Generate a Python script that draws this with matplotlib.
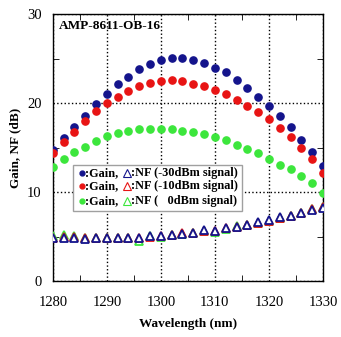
import numpy as np
import matplotlib
matplotlib.use("Agg")
import matplotlib.pyplot as plt
from matplotlib.patches import Rectangle

plt.rcParams['font.family'] = 'Liberation Serif'

# longitudes de onda (nm)
wl = np.arange(1280, 1331, 2)

# ganancia (dB)
gain_m30 = [14.75, 16.1, 17.3, 18.6, 19.85, 21.0, 22.1, 22.95, 23.8, 24.35, 24.9, 25.1, 25.1,
            24.9, 24.5, 24.0, 23.45, 22.55, 21.75, 20.65, 19.65, 18.55, 17.35, 15.9, 14.45, 12.9]
gain_m10 = [14.4, 15.6, 16.8, 18.0, 19.1, 20.0, 20.7, 21.4, 21.95, 22.3, 22.45, 22.55, 22.45,
            22.2, 21.9, 21.5, 21.0, 20.4, 19.65, 19.0, 18.2, 17.2, 16.2, 15.0, 13.75, 12.2]
gain_0 = [12.85, 13.75, 14.45, 15.1, 15.7, 16.25, 16.6, 16.85, 17.05, 17.1, 17.05, 17.1, 16.85,
          16.7, 16.5, 16.2, 15.8, 15.25, 14.85, 14.35, 13.7, 13.1, 12.55, 11.85, 11.0, 9.95]

# figura de ruido (dB)
nf_m30 = [4.8, 4.8, 4.8, 4.75, 4.8, 4.8, 4.8, 4.8, 4.85, 5.05, 5.05, 5.15, 5.3,
          5.45, 5.7, 5.6, 6.0, 6.1, 6.35, 6.6, 6.85, 7.15, 7.35, 7.6, 8.0, 8.25]
nf_m10 = [4.85, 4.9, 4.9, 4.8, 4.8, 4.8, 4.85, 4.8, 4.8, 5.0, 5.1, 5.15, 5.35,
          5.45, 5.65, 5.6, 5.95, 6.05, 6.3, 6.55, 6.8, 7.1, 7.3, 7.6, 8.05, 8.3]
nf_0 = [5.1, 5.15, 5.1, 4.8, 4.85, 4.8, 4.8, 4.8, 4.5, 5.1, 4.9, 5.2, 5.3,
        5.4, 5.65, 5.55, 5.9, 6.15, 6.3, 6.55, 6.8, 7.1, 7.3, 7.6, 8.1, 8.3]

c_blue = '#14148c'
c_red = '#e81414'
c_green = '#3ce63c'

fig = plt.figure(figsize=(3.41, 3.37), dpi=100)
ax = fig.add_axes([0.155, 0.166, 0.792, 0.792])

for nf, c in [(nf_0, c_green), (nf_m10, c_red), (nf_m30, c_blue)]:
    ax.plot(wl, nf, linestyle='none', marker='^', markersize=6, markerfacecolor='white',
            markeredgecolor=c, markeredgewidth=1.3, zorder=3)
for g, c in [(gain_m30, c_blue), (gain_m10, c_red), (gain_0, c_green)]:
    ax.plot(wl, g, linestyle='none', marker='o', markersize=5.2, color=c, zorder=4)

ax.set_xlim(1280, 1330)
ax.set_ylim(0, 30)
ax.set_xticks([1280, 1290, 1300, 1310, 1320, 1330])
ax.set_yticks([0, 10, 20, 30])
ax.set_xticks(np.arange(1285, 1330, 10), minor=True)
ax.set_yticks([5, 15, 25], minor=True)
ax.tick_params(which='both', direction='in', top=True, right=True, labelsize=10.5)
ax.tick_params(which='major', length=0)
ax.tick_params(which='minor', length=4)
ax.tick_params(axis='x', pad=11)
ax.tick_params(axis='y', pad=8)
ax.grid(True, which='major', color='black', linestyle=':', linewidth=1)
for s in ax.spines.values():
    s.set_linewidth(1)

ax.set_xlabel('Wavelength (nm)', fontweight='bold', fontsize=9.5, labelpad=6)
ax.set_ylabel('Gain, NF (dB)', fontweight='bold', fontsize=9.5, labelpad=4)

ax.text(1281.1, 28.7, 'AMP-8611-OB-16', fontweight='bold', fontsize=9.5, va='center', zorder=6)

# leyenda manual
ax.add_patch(Rectangle((1283.7, 7.9), 31.3, 13.0 - 7.9, facecolor='white', edgecolor='#a0a0a0',
                       linewidth=1, zorder=5))
legend_rows = [(12.1, c_blue, '-30dBm signal)'), (10.7, c_red, '-10dBm signal)'),
               (9.0, c_green, '   0dBm signal)')]
for y, c, lab in legend_rows:
    ax.plot(1285.4, y, marker='o', markersize=3.5, color=c, linestyle='none', zorder=6)
    ax.text(1285.9, y, ':Gain,', fontweight='bold', fontsize=8.8, va='center', zorder=6)
    ax.plot(1293.8, y, marker='^', markersize=5.5, markerfacecolor='white', markeredgecolor=c,
            markeredgewidth=0.8, linestyle='none', zorder=6)
    ax.text(1294.5, y, ':NF (' + lab, fontweight='bold', fontsize=8.8, va='center', zorder=6)

fig.savefig('out.png', dpi=100)
